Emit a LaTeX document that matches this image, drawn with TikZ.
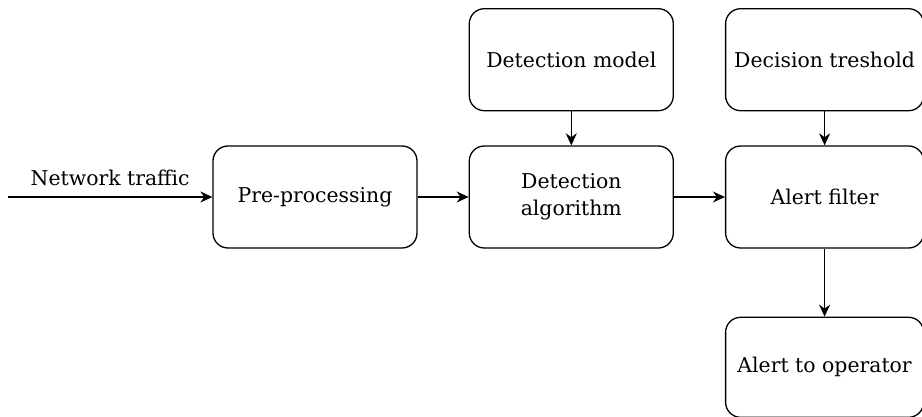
\documentclass[tikz,border=0pt]{standalone}
\usepackage{fontspec}
\setmainfont{DejaVu Serif}
\usetikzlibrary{positioning,arrows.meta}

\begin{document}
\begin{tikzpicture}[
    x=0.5pt, y=-0.5pt,
    node distance=17pt and 25.5pt,
    block/.style={draw, line width=0.65pt, minimum width=102pt, minimum height=51pt, align=center, rounded corners=7.5pt, inner sep=0pt, font=\fontsize{10.2}{13.5}\selectfont},
    narrow/.style={block, minimum width=99pt},
    arr/.style={-{Stealth[length=6pt,width=5.5pt]}, line width=0.65pt}
]
    \useasboundingbox (0,0) rectangle (922,417);

    \node[block] (pre) at (315,197) {Pre-processing};
    \node[block, right=of pre] (alg) {Detection\\algorithm};
    \node[block, above=of alg] (model) {Detection model};
    \node[narrow, right=of alg] (filter) {Alert filter};
    \node[narrow, above=of filter] (thresh) {Decision treshold};
    \node[narrow, below=34pt of filter, minimum height=50pt] (oper) {Alert to operator};
    \coordinate (in) at (8,197);

    \draw[arr] (in) -- node[above=2pt, font=\fontsize{10.2}{13.5}\selectfont] (traffic) {Network traffic} (pre);
    \draw[arr] (pre) -- (alg);
    \draw[arr] (model) -- (alg);
    \draw[arr] (alg) -- (filter);
    \draw[arr] (thresh) -- (filter);
    \draw[arr] (filter) -- (oper);
\end{tikzpicture}
\end{document}
